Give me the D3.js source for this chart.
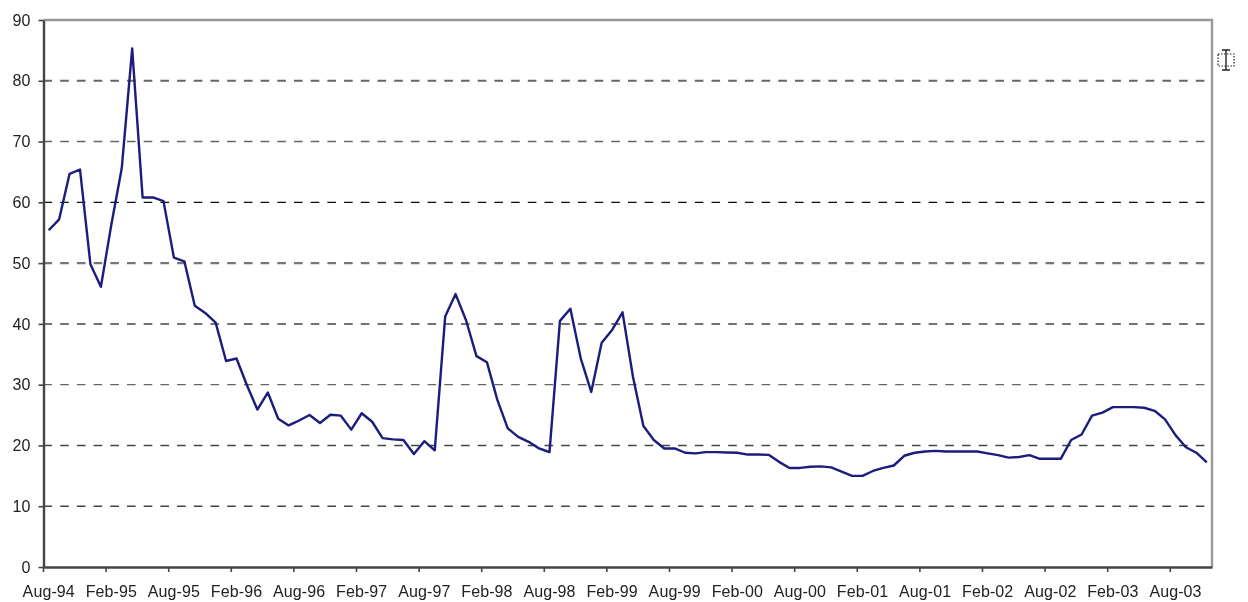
<!DOCTYPE html>
<html lang="en">
  <head>
    <meta charset="utf-8">
    <title>Monthly series, Aug-94 to Nov-03</title>
    <script type="text/javascript" src="https://d3js.org/d3.v7.min.js"></script>
    <style type="text/css">
    html, body {
      margin: 0;
      padding: 0;
      background: #fff;
    }
    svg {
      display: block;
    }
    .axis text {
      font-family: "Liberation Sans", Arial, sans-serif;
      font-size: 16px;
      letter-spacing: 0.1px;
      fill: #222;
    }
    .axis path,
    .axis line {
      stroke: #444;
      stroke-width: 2.4px;
    }
    .axis .tick line {
      stroke-width: 1.6px;
    }
    .grid line {
      stroke-dasharray: 8.6 8.1;
    }
    </style>
  </head>
  <body>
    <svg width="1248" height="602" id="chart"></svg>

    <script type="text/javascript">

// one label per month, the axis only shows every sixth
const months = [
  "Aug-94","Sep-94","Oct-94","Nov-94","Dec-94",
  "Jan-95","Feb-95","Mar-95","Apr-95","May-95","Jun-95","Jul-95","Aug-95","Sep-95","Oct-95","Nov-95","Dec-95",
  "Jan-96","Feb-96","Mar-96","Apr-96","May-96","Jun-96","Jul-96","Aug-96","Sep-96","Oct-96","Nov-96","Dec-96",
  "Jan-97","Feb-97","Mar-97","Apr-97","May-97","Jun-97","Jul-97","Aug-97","Sep-97","Oct-97","Nov-97","Dec-97",
  "Jan-98","Feb-98","Mar-98","Apr-98","May-98","Jun-98","Jul-98","Aug-98","Sep-98","Oct-98","Nov-98","Dec-98",
  "Jan-99","Feb-99","Mar-99","Apr-99","May-99","Jun-99","Jul-99","Aug-99","Sep-99","Oct-99","Nov-99","Dec-99",
  "Jan-00","Feb-00","Mar-00","Apr-00","May-00","Jun-00","Jul-00","Aug-00","Sep-00","Oct-00","Nov-00","Dec-00",
  "Jan-01","Feb-01","Mar-01","Apr-01","May-01","Jun-01","Jul-01","Aug-01","Sep-01","Oct-01","Nov-01","Dec-01",
  "Jan-02","Feb-02","Mar-02","Apr-02","May-02","Jun-02","Jul-02","Aug-02","Sep-02","Oct-02","Nov-02","Dec-02",
  "Jan-03","Feb-03","Mar-03","Apr-03","May-03","Jun-03","Jul-03","Aug-03","Sep-03","Oct-03","Nov-03"
];

const values = [
  55.4,57.2,64.7,65.4,49.8,46.1,56.3,65.6,85.3,60.8,60.8,60.2,
  50.9,50.3,43.0,41.8,40.2,33.9,34.3,29.9,25.9,28.7,24.4,23.3,
  24.1,25.0,23.7,25.05,24.9,22.6,25.3,23.9,21.2,21.0,20.9,18.6,
  20.7,19.2,41.2,44.9,40.6,34.7,33.7,27.5,22.8,21.4,20.6,19.5,
  18.9,40.5,42.5,34.3,28.8,36.9,39.0,41.9,31.3,23.2,20.9,19.5,
  19.5,18.8,18.7,18.9,18.9,18.85,18.8,18.5,18.5,18.45,17.3,16.3,
  16.3,16.5,16.55,16.4,15.7,15.0,15.0,15.8,16.3,16.7,18.3,18.8,
  19.0,19.1,19.0,19.0,19.0,19.0,18.7,18.4,18.0,18.1,18.4,17.8,
  17.8,17.8,20.9,21.8,24.9,25.4,26.3,26.3,26.3,26.2,25.7,24.3,
  21.7,19.7,18.8,17.2
];

const yTicks = [0,10,20,30,40,50,60,70,80,90];
const gridTicks = [10,20,30,40,50,60,70,80];
const xTickEvery = 6;

// the scan makes the dashed rules come out uneven, some dark and thin, some grey and thick
const gridLook = {
  10: ["#444", 1.5], 20: ["#444", 1.6], 30: ["#666", 1.3], 40: ["#444", 1.5],
  50: ["#777", 2.2], 60: ["#111", 1.4], 70: ["#666", 1.4], 80: ["#666", 2.0]
};

// plot box
const left = 43.5;
const right = 1212;
const top_ = 20;
const bottom = 567;

const svg = d3.select("#chart");

const defs = svg.append("defs");
defs.append("filter")
    .attr("id", "soft")
    .append("feGaussianBlur")
    .attr("stdDeviation", 0.45);

const g = svg.append("g").attr("filter", "url(#soft)");

const xScale = d3.scaleBand()
    .domain(months)
    .range([left, right]);

const yScale = d3.scaleLinear()
    .domain([0, 90])
    .range([bottom, top_]);

// ticks sit on the band edges, labels on the band middles
const bottomAxis = d3.axisBottom()
    .scale(xScale)
    .tickValues(months.filter((d, i) => i % xTickEvery === 0))
    .tickSize(5)
    .tickSizeOuter(0);

const leftAxis = d3.axisLeft()
    .scale(yScale)
    .tickValues(yTicks)
    .tickSize(5)
    .tickSizeOuter(0);

g.append("g")
    .attr("class", "grid")
    .selectAll("line")
    .data(gridTicks)
    .enter()
    .append("line")
    .attr("x1", left)
    .attr("x2", right)
    .attr("y1", d => yScale(d))
    .attr("y2", d => yScale(d))
    .attr("stroke", d => gridLook[d][0])
    .attr("stroke-width", d => gridLook[d][1]);

// top and right edge of the plot box
g.append("path")
    .attr("d", d3.line()([[left, top_], [right, top_], [right, bottom]]))
    .attr("fill", "none")
    .attr("stroke", "#999")
    .attr("stroke-width", 2.4);

const xAxisG = g.append("g")
    .attr("class", "axis")
    .attr("transform", "translate(0," + bottom + ")")
    .call(bottomAxis);

xAxisG.selectAll(".tick line")
    .attr("x1", -xScale.bandwidth() / 2)
    .attr("x2", -xScale.bandwidth() / 2);

xAxisG.selectAll(".tick text")
    .attr("y", 19);

const yAxisG = g.append("g")
    .attr("class", "axis")
    .attr("transform", "translate(" + left + ",0)")
    .call(leftAxis);

yAxisG.selectAll(".tick text")
    .attr("x", -13);

const line = d3.line()
    .x((d, i) => xScale(months[i]) + xScale.bandwidth() / 2)
    .y(d => yScale(d));

g.append("path")
    .datum(values)
    .attr("d", line)
    .attr("fill", "none")
    .attr("stroke", "#1c1c7c")
    .attr("stroke-width", 2.4)
    .attr("stroke-linejoin", "round");

// stray text cursor from the original screenshot
const cursor = g.append("g")
    .attr("transform", "translate(1226,60)")
    .attr("fill", "none");

cursor.append("rect")
    .attr("x", -8)
    .attr("y", -6)
    .attr("width", 16)
    .attr("height", 12)
    .attr("stroke", "#222")
    .attr("stroke-width", 1.2)
    .attr("stroke-dasharray", "1.5 1.5");

cursor.append("path")
    .attr("d", "M-4,-10H4M0,-10V10M-4,10H4")
    .attr("stroke", "#222")
    .attr("stroke-width", 1.4);

    </script>
  </body>
</html>
